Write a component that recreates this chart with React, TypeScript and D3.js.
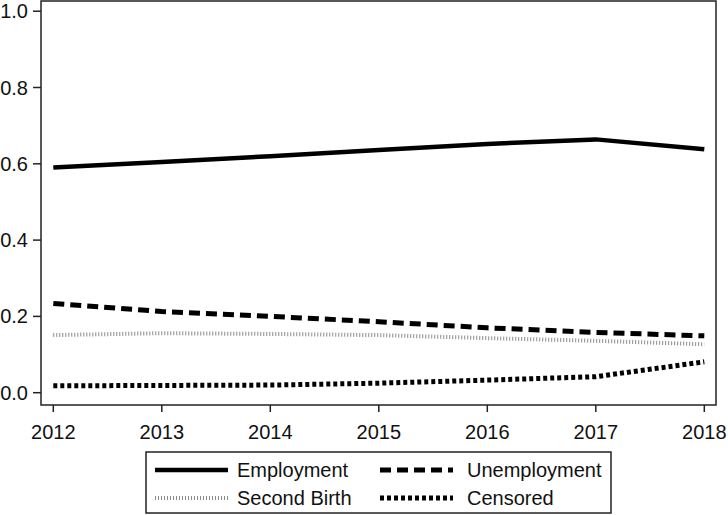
import React from "react";
import * as d3 from "d3";

const years = [2012, 2013, 2014, 2015, 2016, 2017, 2018];
const employment = [0.590, 0.605, 0.620, 0.636, 0.652, 0.664, 0.638];
const unemployment = [0.234, 0.213, 0.200, 0.186, 0.170, 0.158, 0.149];
const secondBirth = [0.151, 0.156, 0.154, 0.151, 0.143, 0.136, 0.127];
const censored = [0.018, 0.019, 0.020, 0.025, 0.033, 0.042, 0.081];
const yTicks = [0, 0.2, 0.4, 0.6, 0.8, 1.0];

const seriesList = [
  { name: "Employment", values: employment, stroke: "#000", width: 4.5, dash: "none" },
  { name: "Unemployment", values: unemployment, stroke: "#000", width: 5, dash: "11 6" },
  { name: "Second Birth", values: secondBirth, stroke: "#8a8a8a", width: 4, dash: "1 2" },
  { name: "Censored", values: censored, stroke: "#000", width: 5, dash: "4 3" },
];

export default function App() {
  const W = 728, H = 515;
  const left = 41, right = 716, top = 1, bottom = 405;
  const x = d3.scaleLinear().domain([2012, 2018]).range([53.3, 704.3]);
  const y = d3.scaleLinear().domain([0, 1]).range([392.7, 11.2]);
  const line = d3.line<number>().x((_, i) => x(years[i])).y((d) => y(d));
  const font = "'Liberation Sans', Arial, sans-serif";

  const legendItems = [
    { s: seriesList[0], lx: 155, tx: 237, ry: 470 },
    { s: seriesList[1], lx: 380, tx: 467, ry: 470 },
    { s: seriesList[2], lx: 155, tx: 237, ry: 498 },
    { s: seriesList[3], lx: 380, tx: 467, ry: 498 },
  ];

  return (
    <svg width={W} height={H} style={{ position: "absolute", left: 0, top: 0, background: "#fff" }} fontFamily={font}>
      <rect x={0} y={0} width={W} height={H} fill="#fff" />
      {seriesList.map((s) => (
        <path key={s.name} d={line(s.values) || ""} fill="none" stroke={s.stroke}
          strokeWidth={s.width} strokeDasharray={s.dash} strokeLinejoin="miter" />
      ))}
      <rect x={left} y={top} width={right - left} height={bottom - top} fill="none" stroke="#222" strokeWidth={1.5} />
      {yTicks.map((t) => (
        <g key={t}>
          <line x1={33} x2={left} y1={y(t)} y2={y(t)} stroke="#222" strokeWidth={1.5} />
          <text x={28} y={y(t)} textAnchor="end" dominantBaseline="central" fontSize={20} fill="#111">
            {t.toFixed(1)}
          </text>
        </g>
      ))}
      {years.map((yr) => (
        <g key={yr}>
          <line x1={x(yr)} x2={x(yr)} y1={bottom} y2={412} stroke="#222" strokeWidth={1.5} />
          <text x={x(yr)} y={432} textAnchor="middle" dominantBaseline="central" fontSize={20} fill="#111">
            {yr}
          </text>
        </g>
      ))}
      <rect x={146} y={452} width={465} height={61} fill="#fff" stroke="#222" strokeWidth={1.5} />
      {legendItems.map(({ s, lx, tx, ry }) => (
        <g key={s.name}>
          <line x1={lx} x2={lx + 73} y1={ry} y2={ry} stroke={s.stroke} strokeWidth={s.width} strokeDasharray={s.dash} />
          <text x={tx} y={ry} dominantBaseline="central" fontSize={20} fill="#111">{s.name}</text>
        </g>
      ))}
    </svg>
  );
}
